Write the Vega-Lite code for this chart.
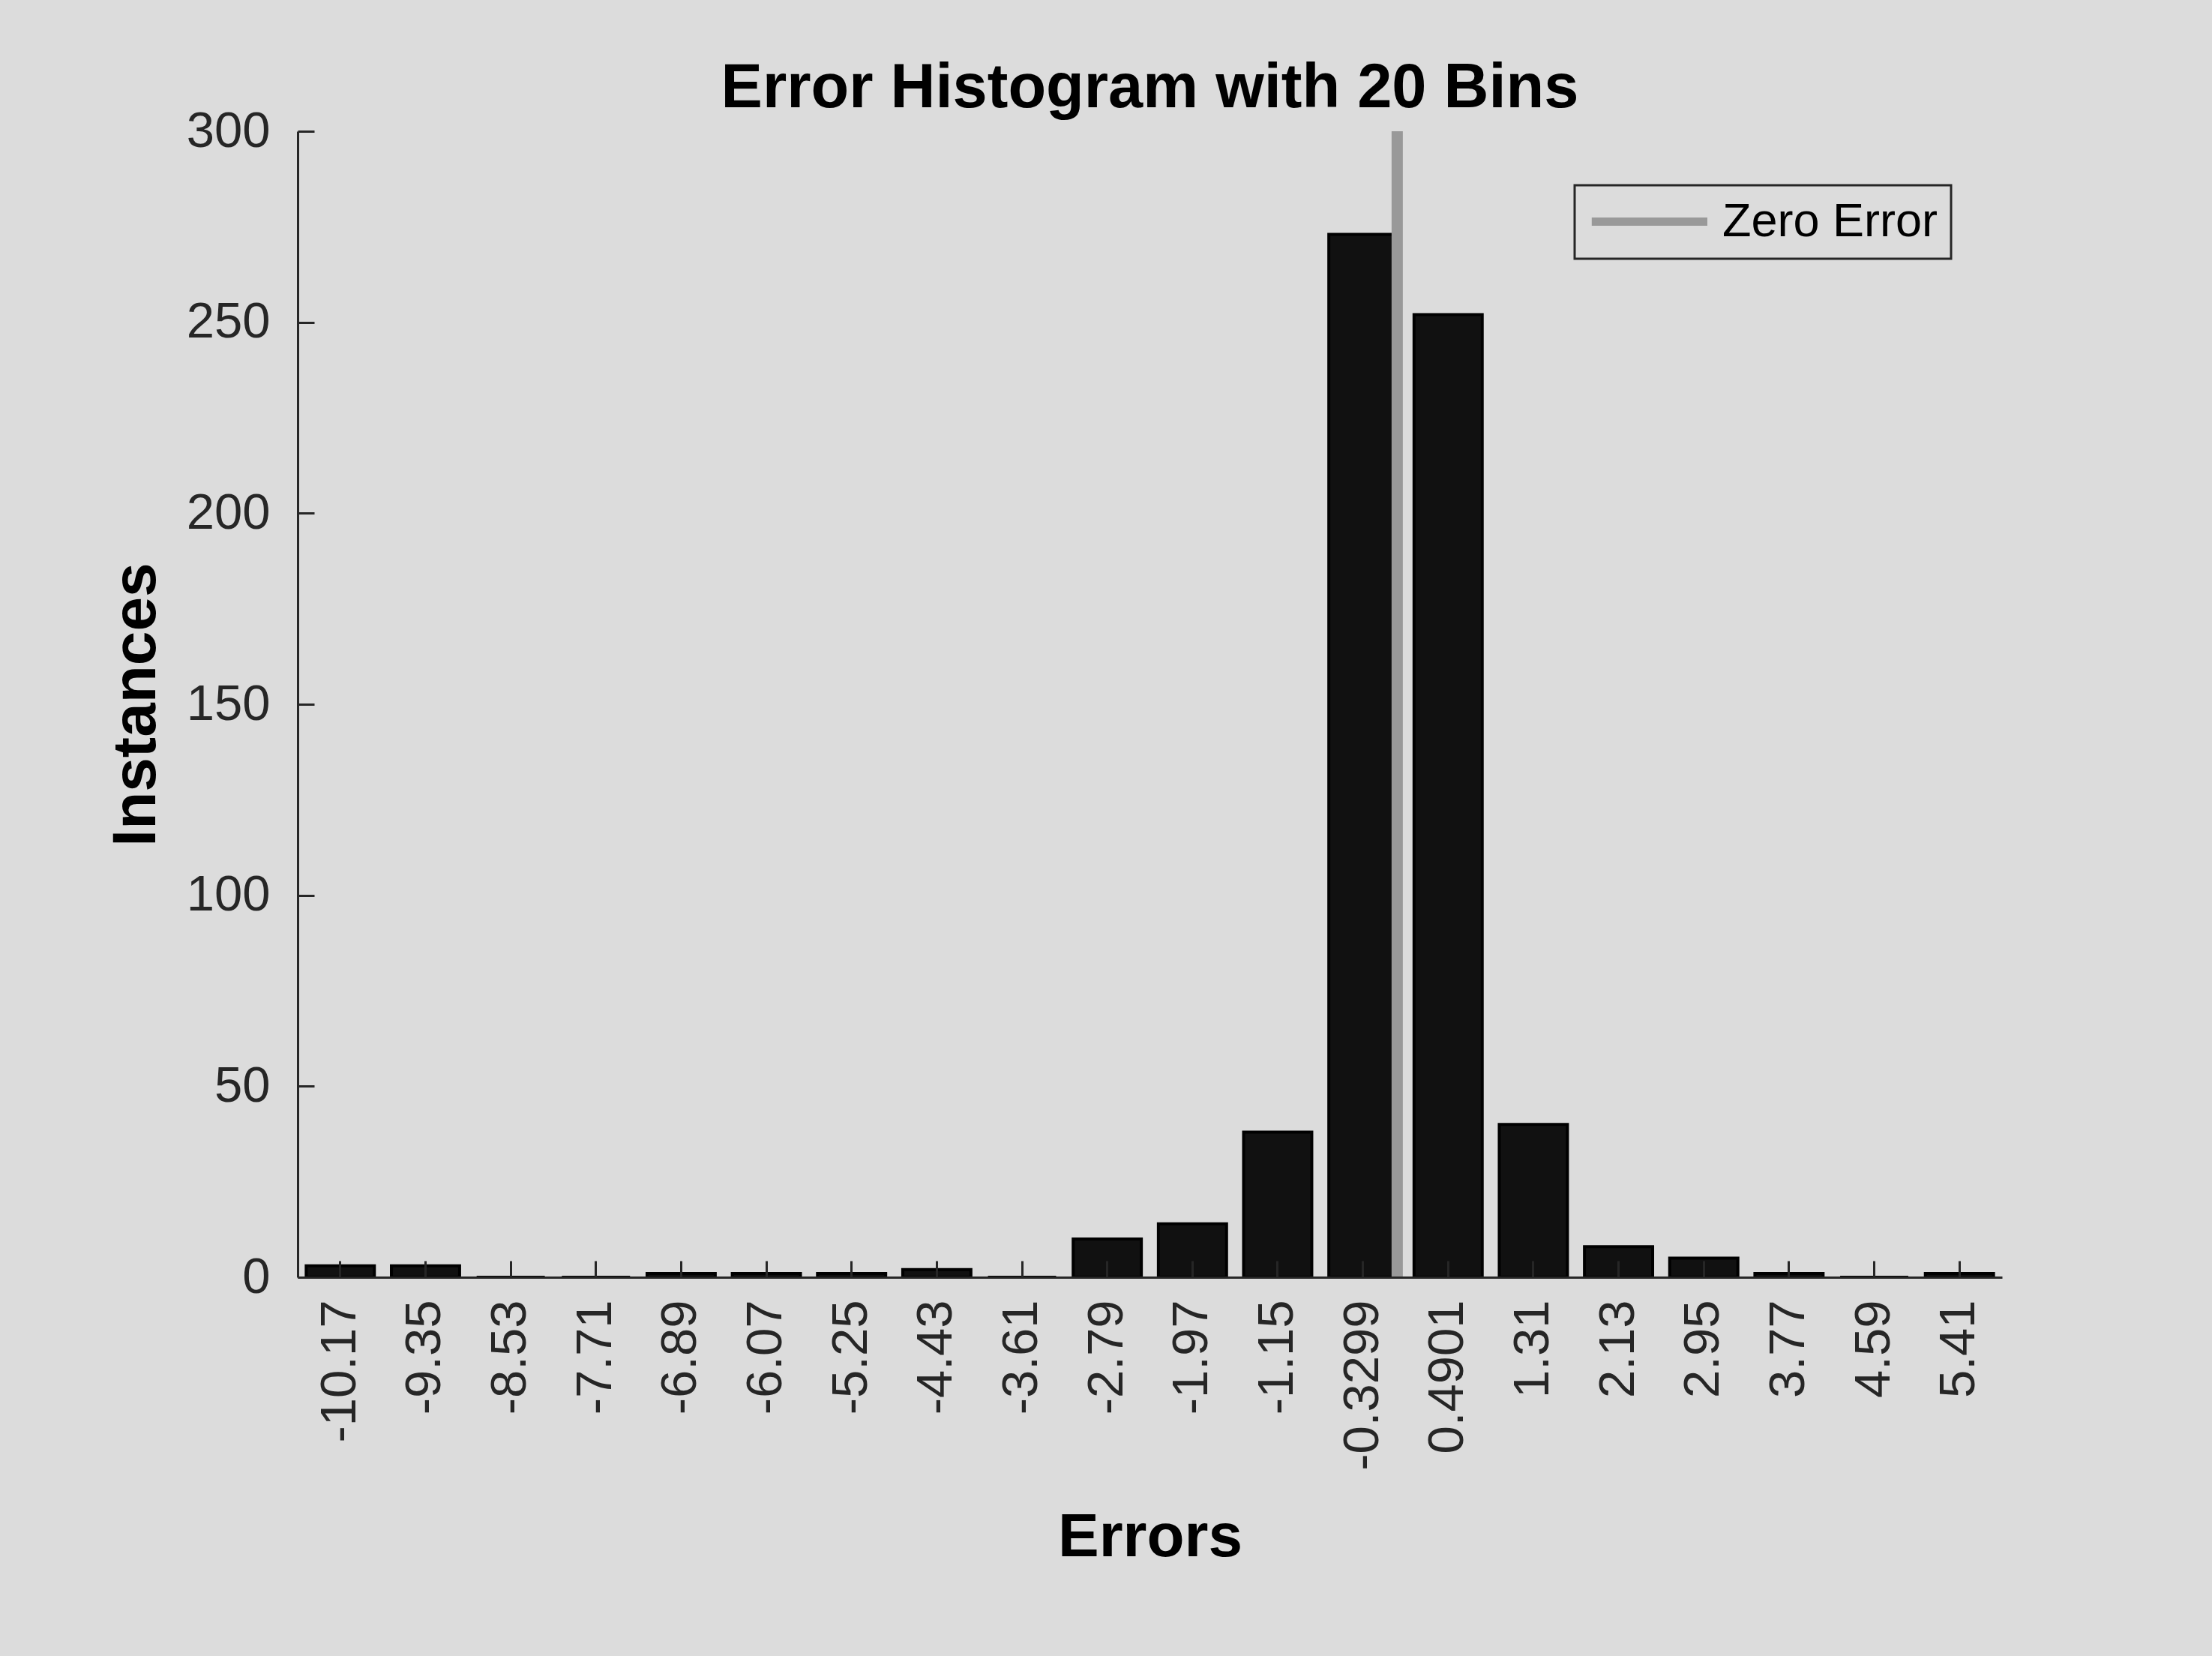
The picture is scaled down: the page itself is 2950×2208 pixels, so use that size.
{
  "$schema": "https://vega.github.io/schema/vega-lite/v6.json",
  "width": 2273,
  "height": 1528,
  "autosize": {"type": "none"},
  "padding": {"left": 397, "top": 175, "right": 280, "bottom": 505},
  "background": "#dcdcdc",
  "config": {
    "view": {"stroke": null},
    "font": "Liberation Sans",
    "legend": {"strokeWidth": 3},
    "axis": {
      "domainColor": "#262626",
      "domainWidth": 3,
      "tickColor": "#262626",
      "tickWidth": 3,
      "tickSize": -22,
      "labelColor": "#262626",
      "labelFont": "Liberation Sans",
      "labelFontSize": 67,
      "labelLimit": 0,
      "titleFont": "Liberation Sans",
      "titleFontSize": 82,
      "titleFontWeight": "bold",
      "titleColor": "#000000",
      "grid": false
    }
  },
  "title": {
    "text": "Error Histogram with 20 Bins",
    "fontSize": 83,
    "fontWeight": "bold",
    "font": "Liberation Sans",
    "color": "#000000",
    "anchor": "middle",
    "frame": "group",
    "baseline": "alphabetic",
    "offset": -85
  },
  "data": {
    "values": [
      {"bin": "-10.17", "count": 3},
      {"bin": "-9.35", "count": 3},
      {"bin": "-8.53", "count": 0},
      {"bin": "-7.71", "count": 0},
      {"bin": "-6.89", "count": 1},
      {"bin": "-6.07", "count": 1},
      {"bin": "-5.25", "count": 1},
      {"bin": "-4.43", "count": 2},
      {"bin": "-3.61", "count": 0},
      {"bin": "-2.79", "count": 10},
      {"bin": "-1.97", "count": 14},
      {"bin": "-1.15", "count": 38},
      {"bin": "-0.3299", "count": 273},
      {"bin": "0.4901", "count": 252},
      {"bin": "1.31", "count": 40},
      {"bin": "2.13", "count": 8},
      {"bin": "2.95", "count": 5},
      {"bin": "3.77", "count": 1},
      {"bin": "4.59", "count": 0},
      {"bin": "5.41", "count": 1}
    ]
  },
  "layer": [
    {
      "mark": {"type": "bar", "fill": "#111111", "stroke": "#000000", "strokeWidth": 4},
      "encoding": {
        "x": {
          "field": "bin",
          "type": "nominal",
          "sort": null,
          "scale": {"paddingInner": 0.2, "paddingOuter": 0.1},
          "axis": {
            "title": "Errors",
            "labelAngle": 270,
            "labelPadding": 52,
            "titlePadding": 106,
            "zindex": 1
          }
        },
        "y": {
          "field": "count",
          "type": "quantitative",
          "scale": {"domain": [0, 300], "nice": false},
          "axis": {
            "title": "Instances",
            "values": [0, 50, 100, 150, 200, 250, 300],
            "labelPadding": 59,
            "titlePadding": 25,
            "zindex": 1
          }
        }
      }
    },
    {
      "data": {"values": [{"error": 0, "series": "Zero Error"}]},
      "mark": {"type": "rule", "strokeWidth": 15},
      "encoding": {
        "x": {
          "field": "error",
          "type": "quantitative",
          "scale": {"domain": [-10.58, 5.82], "nice": false, "zero": false},
          "axis": null
        },
        "color": {
          "field": "series",
          "type": "nominal",
          "scale": {"range": ["#999999"]},
          "legend": {
            "title": null,
            "orient": "none",
            "legendX": 1703,
            "legendY": 72,
            "symbolType": "M-1,0H5",
            "symbolSize": 2642,
            "symbolStrokeWidth": 11,
            "labelFontSize": 63,
            "labelFont": "Liberation Sans",
            "labelColor": "#000000",
            "labelOffset": 117,
            "padding": 17,
            "strokeColor": "#262626",
            "fillColor": "#dcdcdc",
            "labelLimit": 0
          }
        }
      }
    }
  ],
  "resolve": {"scale": {"x": "independent"}, "axis": {"x": "independent"}}
}
